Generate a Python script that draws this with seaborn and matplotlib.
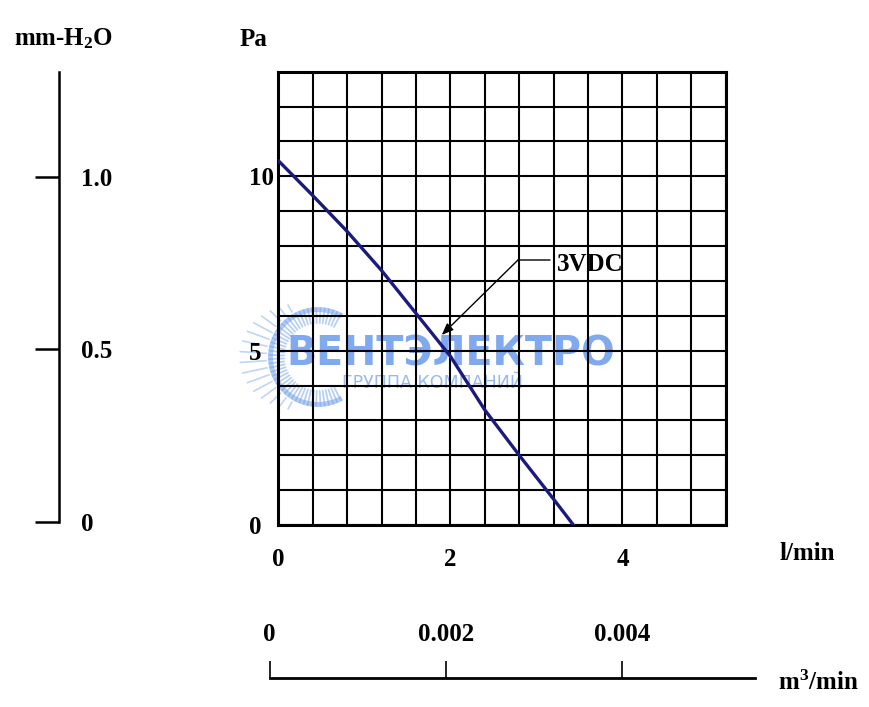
import numpy as np
import pandas as pd
import matplotlib
matplotlib.use("Agg")
import matplotlib.pyplot as plt
from matplotlib.patches import Wedge
import seaborn as sns

# ---- data ----
flow_lpm = [0.0, 0.4, 0.8, 1.2, 1.6, 2.0, 2.4, 2.8, 3.2, 3.43]
pressure_pa = [10.45, 9.45, 8.42, 7.3, 6.07, 4.84, 3.3, 2.0, 0.74, 0.0]
series_label = "3VDC"
x_tick_vals = [0, 2, 4]
y_tick_vals = [0, 5, 10]
mmh2o_ticks = [0, 0.5, 1.0]
mmh2o_labels = ["0", "0.5", "1.0"]
m3_ticks = [0, 0.002, 0.004]
m3_labels = ["0", "0.002", "0.004"]
arrow_tip = (1.90, 5.45)
arrow_elbow = (2.786, 7.60)
leader_end = (3.158, 7.60)
label_pos = (3.236, 7.46)

sns.set_style("white")
plt.rcParams['font.family'] = ['Liberation Serif', 'DejaVu Serif']
plt.rcParams['font.weight'] = 'bold'
plt.rcParams['text.color'] = 'black'
plt.rcParams['mathtext.fontset'] = 'custom'
plt.rcParams['mathtext.rm'] = 'Liberation Serif:bold'
plt.rcParams['mathtext.it'] = 'Liberation Serif:bold'
plt.rcParams['mathtext.bf'] = 'Liberation Serif:bold'
plt.rcParams['mathtext.default'] = 'rm'

W, H = 869, 707
fig = plt.figure(figsize=(W / 100, H / 100), dpi=100)
fig.patch.set_facecolor('white')


def fx(px):
    return px / W


def fy(py):
    return 1 - py / H


# ---- watermark overlay (pixel coordinates, y down) ----
wm = fig.add_axes([0, 0, 1, 1], zorder=0)
wm.set_xlim(0, W)
wm.set_ylim(H, 0)
wm.axis('off')
logo_c = (318, 357)
logo_col = (0.45, 0.63, 0.93)
wm.add_patch(Wedge(logo_c, 50, 60, 300, width=5, color=logo_col, alpha=0.55, lw=0))
for ang in np.linspace(62, 298, 48):
    a = np.deg2rad(ang)
    r0, r1 = 34, 49
    wm.plot([logo_c[0] + r0 * np.cos(a), logo_c[0] + r1 * np.cos(a)],
            [logo_c[1] + r0 * np.sin(a), logo_c[1] + r1 * np.sin(a)],
            color=logo_col, alpha=0.5, lw=1.3)
for ang in np.linspace(120, 240, 16):
    a = np.deg2rad(ang)
    r0, r1 = 52, 54 + 24 * np.cos(np.deg2rad(ang - 180)) ** 2
    wm.plot([logo_c[0] + r0 * np.cos(a), logo_c[0] + r1 * np.cos(a)],
            [logo_c[1] + r0 * np.sin(a), logo_c[1] + r1 * np.sin(a)],
            color=logo_col, alpha=0.45, lw=1.2)
wm.text(451, 354, "ВЕНТЭЛЕКТРО", fontfamily='DejaVu Sans', fontweight='bold',
        fontsize=28.5, color=(0.38, 0.58, 0.92), alpha=0.8, ha='center', va='center')
wm.text(433, 383, "ГРУППА КОМПАНИЙ", fontfamily='DejaVu Sans', fontweight='normal',
        fontsize=12.5, color=(0.55, 0.70, 0.93), alpha=0.9, ha='center', va='center')

# ---- main axes ----
ax = fig.add_axes([fx(278.3), fy(525), (725.7 - 278.3) / W, (525 - 71.7) / H], zorder=2)
ax.set_facecolor('none')
df = pd.DataFrame({'flow': flow_lpm, 'pressure': pressure_pa})
sns.lineplot(data=df, x='flow', y='pressure', ax=ax, color='#1b1b7e', lw=2.4,
             zorder=4, sort=False)
ax.set_xlim(0, 5.2)
ax.set_ylim(0, 13)
ax.set_xticks(x_tick_vals)
ax.set_yticks(y_tick_vals)
ax.set_xticks(np.arange(0, 5.2 + 1e-9, 0.4), minor=True)
ax.set_yticks(np.arange(0, 13 + 1e-9, 1), minor=True)
ax.grid(True, which='both', color='black', lw=1.5)
ax.tick_params(which='both', length=0, labelcolor='black')
ax.tick_params(axis='x', pad=16.5, labelsize=18)
ax.tick_params(axis='y', pad=21, labelsize=18)
for t in ax.get_yticklabels():
    t.set_ha('left')
for s in ax.spines.values():
    s.set_visible(True)
    s.set_linewidth(2.2)
    s.set_color('black')
ax.set_xlabel('')
ax.set_ylabel('')

ax.annotate('', xy=arrow_tip, xytext=arrow_elbow,
            arrowprops=dict(arrowstyle='-|>,head_length=0.7,head_width=0.28',
                            color='black', lw=1.0, shrinkA=0, shrinkB=0), zorder=5)
ax.annotate('', xy=leader_end, xytext=arrow_elbow,
            arrowprops=dict(arrowstyle='-', color='black', lw=1.0,
                            shrinkA=0, shrinkB=0), zorder=5)
ax.text(label_pos[0], label_pos[1], series_label, ha='left', va='center', fontsize=18,
        zorder=5)

# ---- left mm-H2O axis ----
axl = fig.add_axes([fx(58.7), fy(522), 1e-4, (522 - 71.7) / H], zorder=2)
axl.set_facecolor('none')
axl.set_ylim(0, 1.304)
axl.set_xticks([])
axl.set_yticks(mmh2o_ticks, mmh2o_labels)
for k in ['top', 'right', 'bottom']:
    axl.spines[k].set_visible(False)
axl.spines['left'].set_linewidth(1.8)
axl.spines['left'].set_color('black')
axl.tick_params(axis='y', direction='out', length=17, width=1.8, left=True, right=False,
                labelleft=False, labelright=True, pad=-1, labelsize=18,
                color='black', labelcolor='black')
for t in axl.get_yticklabels():
    t.set_ha('left')

# ---- bottom m3/min axis ----
axb = fig.add_axes([fx(269.7), fy(677.7), (755 - 269.7) / W, 1e-4], zorder=2)
axb.set_facecolor('none')
axb.set_xlim(0, (755 - 269.7) / 88075.0)
axb.set_yticks([])
axb.set_xticks(m3_ticks, m3_labels)
for k in ['top', 'right', 'left']:
    axb.spines[k].set_visible(False)
axb.spines['bottom'].set_linewidth(2.0)
axb.spines['bottom'].set_color('black')
axb.tick_params(axis='x', direction='in', length=12, width=1.2, bottom=True, top=False,
                labelbottom=False, labeltop=True, pad=23, labelsize=18,
                color='black', labelcolor='black')

# ---- axis titles ----
fig.text(fx(64), fy(39), "mm-H$_2$O", ha='center', va='center', fontsize=18)
fig.text(fx(253), fy(39), "Pa", ha='center', va='center', fontsize=18)
fig.text(fx(807), fy(553), "l/min", ha='center', va='center', fontsize=18)
fig.text(fx(818), fy(690), "m$^3$/min", ha='center', va='baseline', fontsize=18)

fig.savefig("out.png", dpi=100, facecolor='white')
